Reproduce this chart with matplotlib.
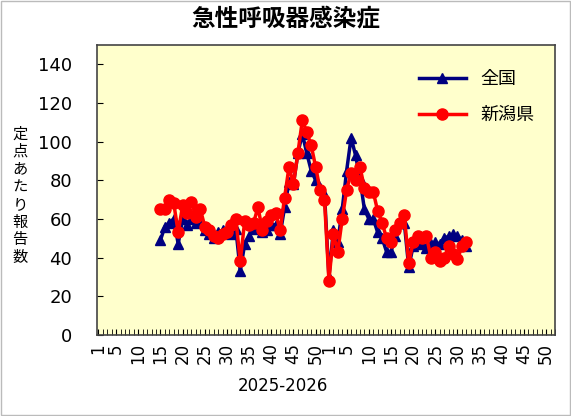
import matplotlib.pyplot as plt
import numpy as np

plt.rcParams['font.family'] = ['Noto Sans CJK JP', 'DejaVu Sans']

# weeks: 2025 w15..w52, 2026 w1..w32
weeks_2025 = list(range(15, 53))
weeks_2026 = list(range(1, 33))

niigata = [65, 65, 70, 68, 53, 67, 63, 69, 61, 65, 56, 54, 51, 50, 52, 53, 57, 60,
           38, 59, 57, 58, 66, 54, 59, 62, 63, 54, 71, 87, 78, 94, 111, 105, 98, 87, 75, 70,
           28, 52, 43, 60, 75, 84, 80, 87, 76, 74, 74, 64, 58, 50, 48, 54, 58, 62, 37, 48, 51,
           50, 51, 40, 43, 38, 40, 46, 42, 39, 46, 48]
zenkoku = [49, 56, 58, 60, 47, 60, 57, 60, 58, 60, 54, 52, 50, 53, 54, 55, 52, 55,
           33, 47, 51, 55, 56, 53, 54, 57, 57, 52, 66, 79, 78, 94, 104, 94, 85, 80, 76, 73,
           30, 54, 48, 65, 85, 102, 93, 81, 65, 60, 60, 53, 50, 43, 43, 51, 58, 58, 35, 46, 48,
           47, 45, 47, 48, 47, 50, 51, 52, 51, 49, 46]

tick_weeks = [1, 5, 10, 15, 20, 25, 30, 35, 40, 45, 50]

# x index: 2025 week w -> w-1, 2026 week w -> 52+w-1
x = np.array([w - 1 for w in weeks_2025] + [52 + w - 1 for w in weeks_2026])

fig = plt.figure(figsize=(5.71, 4.16), dpi=100)
fig.patch.set_facecolor('white')
ax = fig.add_axes([0.170, 0.195, 0.802, 0.697])
ax.set_facecolor('#FFFFCC')

ax.plot(x, zenkoku, color='#000080', marker='^', markersize=7, linewidth=2.5, label='全国')
ax.plot(x, niigata, color='#FF0000', marker='o', markersize=8, linewidth=2.5, label='新潟県')

ax.set_ylim(0, 150)
ax.set_yticks(range(0, 141, 20))
ax.set_xlim(-0.3, 102.6)
ticks = [w - 1 for w in tick_weeks] + [52 + w - 1 for w in tick_weeks]
ax.set_xticks(ticks)
ax.set_xticklabels([str(w) for w in tick_weeks] * 2, rotation=90, fontsize=12,
                   family='DejaVu Sans')
ax.set_xticks(range(0, 104), minor=True)
ax.tick_params(axis='x', which='both', direction='in', length=4, pad=6)
ax.tick_params(axis='y', direction='in', length=4, labelsize=13, pad=18)
for lab in ax.get_yticklabels():
    lab.set_family('DejaVu Sans')
for s in ax.spines.values():
    s.set_linewidth(1.2)
    s.set_color('#444444')

ax.legend(loc='upper right', bbox_to_anchor=(0.99, 0.97), frameon=False, fontsize=13,
          handlelength=2.6, labelspacing=1.0)

fig.text(0.5, 0.955, '急性呼吸器感染症', ha='center', va='center', fontsize=17, fontweight='bold')
fig.text(0.035, 0.53, '\n'.join('定点あたり報告数'), ha='center', va='center', fontsize=11,
         linespacing=1.05)
fig.text(0.495, 0.072, '2025-2026', ha='center', va='center', fontsize=12, family='DejaVu Sans')

fig.add_artist(plt.Rectangle((0.002, 0.002), 0.996, 0.996, transform=fig.transFigure,
                             fill=False, edgecolor='#BBBBBB', linewidth=1))

fig.savefig('out.png', dpi=100)
